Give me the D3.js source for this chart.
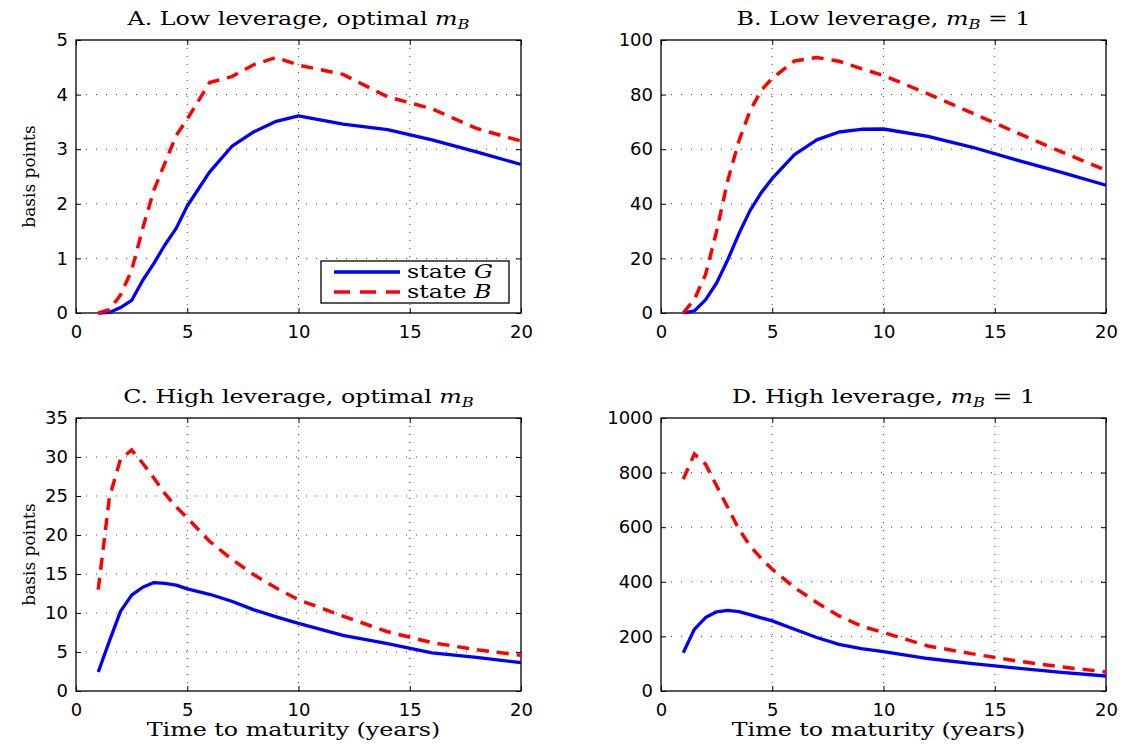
<!DOCTYPE html>
<html>
<head>
<meta charset="utf-8">
<script src="https://cdn.jsdelivr.net/npm/d3@7"></script>
<style>
  html, body { margin: 0; padding: 0; background: #fff; }
  svg { display: block; }
</style>
</head>
<body>
<svg id="chart" width="1122" height="744"></svg>
<script>
// ---------------- DATA ----------------
const maturities = [1, 1.5, 2, 2.5, 3, 3.5, 4, 4.5, 5, 6, 7, 8, 9, 10, 12, 14, 16, 18, 20];

const lowOptimalG  = [0, 0.01, 0.1, 0.23, 0.6, 0.91, 1.25, 1.55, 1.96, 2.58, 3.05, 3.32, 3.51, 3.61, 3.46, 3.36, 3.17, 2.95, 2.72];
const lowOptimalB  = [0, 0.06, 0.33, 0.78, 1.55, 2.25, 2.75, 3.25, 3.55, 4.22, 4.33, 4.55, 4.68, 4.54, 4.37, 3.96, 3.74, 3.38, 3.15];

const lowOneG      = [0, 0.8, 4.8, 11, 19.5, 29, 37.5, 44, 49.3, 58, 63.4, 66.3, 67.3, 67.4, 64.7, 60.7, 56, 51.5, 46.8];
const lowOneB      = [0, 5, 14, 30, 48.5, 63, 74, 81.5, 86, 92.3, 93.6, 92.2, 89.5, 87, 80.3, 73.2, 66, 59, 52.3];

const highOptimalG = [2.43, 6.4, 10.2, 12.3, 13.3, 13.9, 13.8, 13.57, 13.1, 12.4, 11.5, 10.4, 9.5, 8.66, 7.13, 6.06, 4.9, 4.3, 3.63];
const highOptimalB = [13, 24.8, 29.7, 30.9, 29.2, 27.3, 25.3, 23.6, 22.2, 19.2, 16.9, 14.9, 13.2, 11.7, 9.6, 7.6, 6.2, 5.3, 4.57];

const highOneG     = [140, 226, 269, 290, 295, 291, 280, 268, 257, 226, 196, 171, 155, 144, 119, 100, 84, 68, 55];
const highOneB     = [776, 868, 831, 752, 672, 593, 532, 486, 446, 379, 324, 275, 238, 214, 165, 136, 110, 88, 70];

const xTicks = [0, 5, 10, 15, 20];
const yTicksA = [0, 1, 2, 3, 4, 5];
const yTicksB = [0, 20, 40, 60, 80, 100];
const yTicksC = [0, 5, 10, 15, 20, 25, 30, 35];
const yTicksD = [0, 200, 400, 600, 800, 1000];

const seriesNames = ["state G", "state B"];

// ---------------- LAYOUT ----------------
const svg = d3.select("#chart");
const serif = "'DejaVu Serif', 'Liberation Serif', serif";
const sans = "'DejaVu Sans', 'Liberation Sans', sans-serif";
const SX = 1.25; // horizontal stretch of serif text

const panels = [
  { left: 76,  top: 40,  title: ["A. Low leverage, optimal ", "m", "B", ""],       g: lowOptimalG,  b: lowOptimalB,  yTicks: yTicksA, ylabel: true,  xlabel: false, legend: true },
  { left: 661, top: 40,  title: ["B. Low leverage, ", "m", "B", " = 1"],           g: lowOneG,      b: lowOneB,      yTicks: yTicksB, ylabel: false, xlabel: false, legend: false },
  { left: 76,  top: 418, title: ["C. High leverage, optimal ", "m", "B", ""],      g: highOptimalG, b: highOptimalB, yTicks: yTicksC, ylabel: true,  xlabel: true,  legend: false },
  { left: 661, top: 418, title: ["D. High leverage, ", "m", "B", " = 1"],          g: highOneG,     b: highOneB,     yTicks: yTicksD, ylabel: false, xlabel: true,  legend: false }
];
const W = 445, H = 273;

function stretchedText(parent, x, y, anchor, size) {
  return parent.append("g").attr("transform", `translate(${x},${y}) scale(${SX},1)`)
    .append("text").attr("x", 0).attr("y", 0).attr("text-anchor", anchor)
    .attr("font-family", serif).attr("font-size", size).attr("fill", "#000");
}

panels.forEach(p => {
  const g = svg.append("g").attr("transform", `translate(${p.left},${p.top})`);
  const x = d3.scaleLinear().domain([0, 20]).range([0, W]);
  const yMax = p.yTicks[p.yTicks.length - 1];
  const y = d3.scaleLinear().domain([0, yMax]).range([H, 0]);

  // grid
  g.append("g").selectAll("line.vg").data(xTicks.slice(1, -1)).join("line")
    .attr("x1", d => x(d)).attr("x2", d => x(d)).attr("y1", 0).attr("y2", H)
    .attr("stroke", "#444").attr("stroke-width", 1).attr("stroke-dasharray", "1,7");
  g.append("g").selectAll("line.hg").data(p.yTicks.slice(1, -1)).join("line")
    .attr("x1", 0).attr("x2", W).attr("y1", d => y(d)).attr("y2", d => y(d))
    .attr("stroke", "#444").attr("stroke-width", 1).attr("stroke-dasharray", "1,9");

  // axes (ticks inward)
  const xAxis = d3.axisBottom(x).tickValues(xTicks).tickSize(-5).tickPadding(12).tickFormat(d3.format("d"));
  const yAxis = d3.axisLeft(y).tickValues(p.yTicks).tickSize(-5).tickPadding(8).tickFormat(d3.format("d"));
  const xa = g.append("g").attr("transform", `translate(0,${H})`).call(xAxis);
  const ya = g.append("g").call(yAxis);
  const xt = g.append("g").call(d3.axisTop(x).tickValues(xTicks).tickSize(-5).tickFormat(""));
  const yr = g.append("g").attr("transform", `translate(${W},0)`).call(d3.axisRight(y).tickValues(p.yTicks).tickSize(-5).tickFormat(""));
  [xa, ya, xt, yr].forEach(a => {
    a.select(".domain").remove();
    a.selectAll("line").attr("stroke", "#000");
    a.selectAll("text").attr("font-family", sans).attr("font-size", 18).attr("fill", "#000");
  });
  g.append("rect").attr("x", 0).attr("y", 0).attr("width", W).attr("height", H)
    .attr("fill", "none").attr("stroke", "#000").attr("stroke-width", 1.3);

  // lines
  const line = d3.line().x((d, i) => x(maturities[i])).y(d => y(d));
  g.append("path").datum(p.g).attr("d", line)
    .attr("fill", "none").attr("stroke", "#0000ff").attr("stroke-width", 3.3).attr("stroke-linejoin", "round");
  g.append("path").datum(p.b).attr("d", line)
    .attr("fill", "none").attr("stroke", "#ff0000").attr("stroke-width", 3.5).attr("stroke-dasharray", "12,8");

  // title
  const t = stretchedText(g, W / 2, -15, "middle", 19);
  t.append("tspan").text(p.title[0]);
  t.append("tspan").attr("font-style", "italic").text(p.title[1]);
  t.append("tspan").attr("font-style", "italic").attr("font-size", 13).attr("dy", 4).text(p.title[2]);
  if (p.title[3]) t.append("tspan").attr("dy", -4).text(p.title[3]);

  if (p.ylabel) {
    g.append("text").attr("transform", `translate(${-41},${H / 2}) rotate(-90)`)
      .attr("text-anchor", "middle").attr("font-family", serif).attr("font-size", 17).text("basis points");
  }
  if (p.xlabel) {
    stretchedText(g, W / 2 - 5, H + 45, "middle", 19).text("Time to maturity (years)");
  }
  if (p.legend) {
    const lg = g.append("g").attr("transform", `translate(${321 - p.left},${261 - p.top})`);
    lg.append("rect").attr("width", 188).attr("height", 42).attr("fill", "#fff").attr("stroke", "#000").attr("stroke-width", 1.3);
    const items = [{ c: "#0000ff", dash: null, n: seriesNames[0] }, { c: "#ff0000", dash: "16,10", n: seriesNames[1] }];
    items.forEach((it, i) => {
      const yy = 11 + i * 20;
      lg.append("line").attr("x1", 13).attr("x2", 79).attr("y1", yy).attr("y2", yy)
        .attr("stroke", it.c).attr("stroke-width", 3.5).attr("stroke-dasharray", it.dash);
      const tx = stretchedText(lg, 86, yy + 6, "start", 19);
      const parts = it.n.split(" ");
      tx.append("tspan").text(parts[0] + " ");
      tx.append("tspan").attr("font-style", "italic").text(parts[1]);
    });
  }
});
</script>
</body>
</html>
